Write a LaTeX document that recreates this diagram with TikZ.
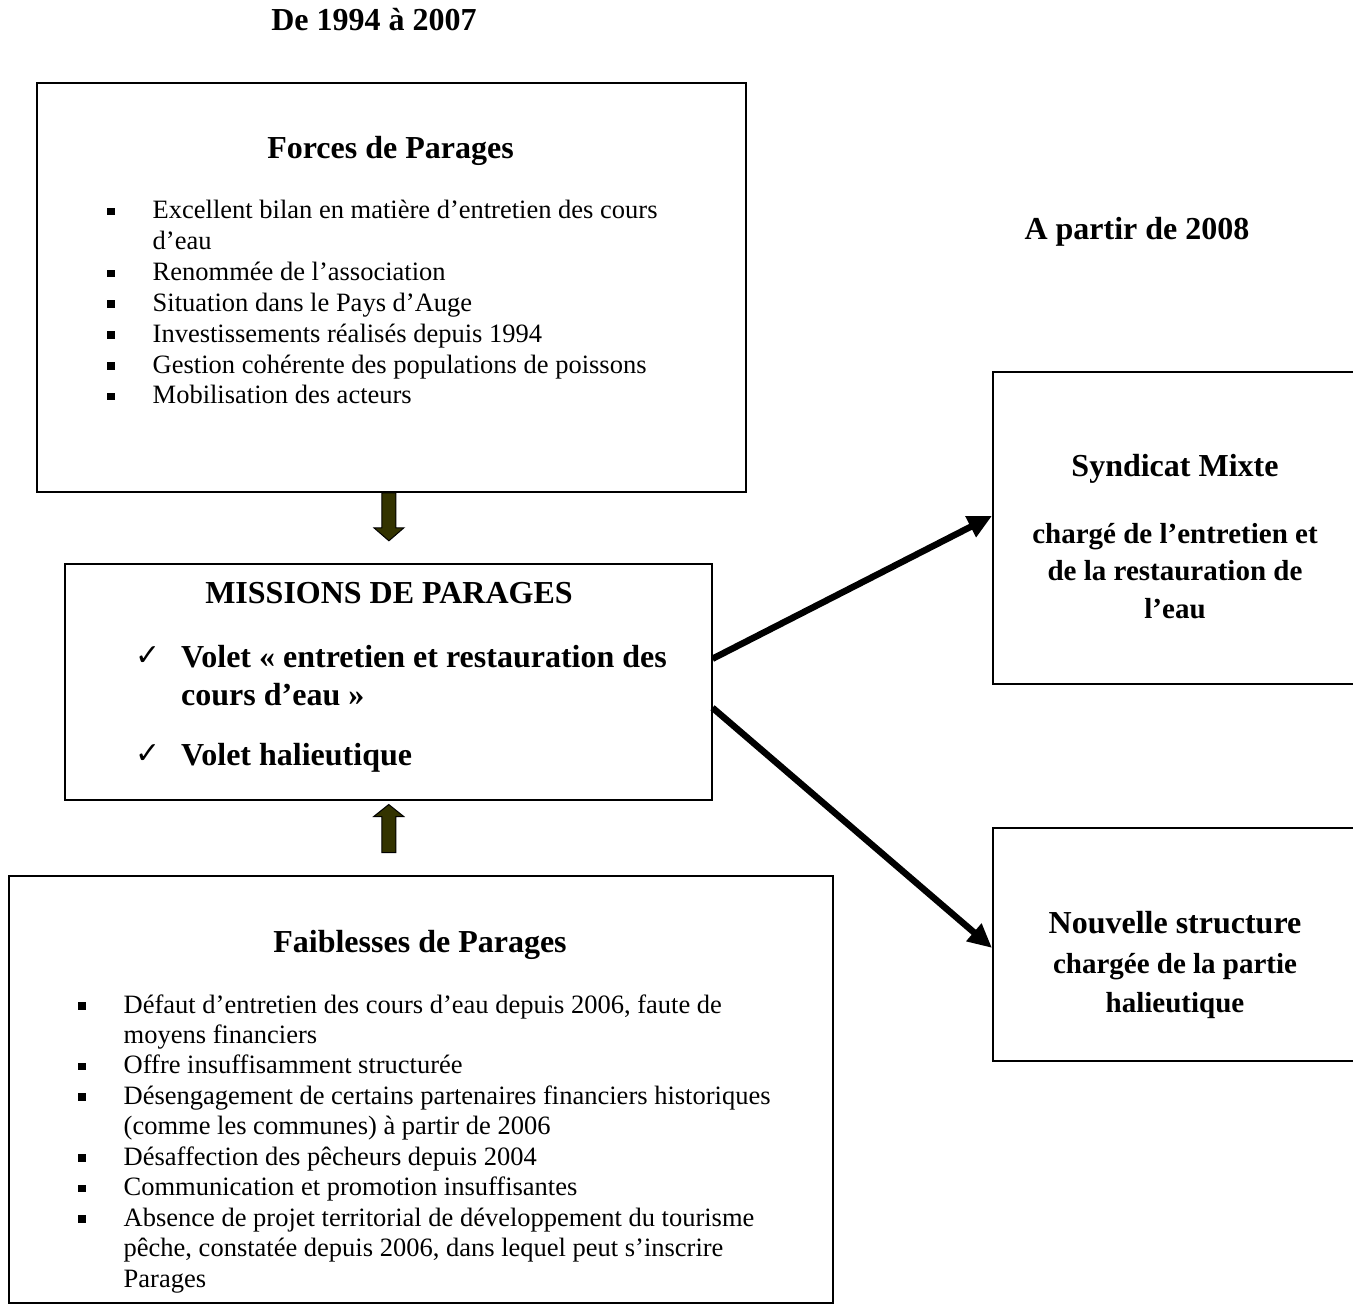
\documentclass[tikz,border=0pt]{standalone}
\usepackage{fontspec}
\setmainfont{Liberation Serif}
\newfontfamily\symfont{DejaVu Sans}
\usetikzlibrary{arrows.meta}
\definecolor{olivedark}{RGB}{51,51,0}
\newcommand\ttlfont{\fontsize{32bp}{38bp}\selectfont\bfseries}
\newcommand\sqitem[1]{\par\noindent\hangindent=45.5bp\hangafter=1\makebox[45.5bp][l]{\rule[3.5bp]{7.5bp}{7.5bp}}#1}
\newcommand\ckitem[1]{\par\noindent\hangindent=46bp\hangafter=1\makebox[46bp][l]{\raisebox{2bp}{\symfont\fontsize{30bp}{30bp}\selectfont ✓}}#1}
\begin{document}
\begin{tikzpicture}[x=1bp,y=-1bp,
  frame/.style={draw, line width=1.8bp, inner sep=0pt, anchor=north west},
  txt/.style={inner sep=0pt, anchor=base},
  lst/.style={inner sep=0pt, anchor=base west},
  blockarr/.style={draw=black, line width=1bp, fill=olivedark, line join=miter},
  link/.style={line width=6.5bp, -{Triangle[length=24bp,width=22bp]}}]
\useasboundingbox (0,0) rectangle (1353,1304);
\clip (0,0) rectangle (1353,1304);
% boxes
\node[frame, minimum width=709bp, minimum height=409bp] (forces) at (36,82) {};
\node[frame, line width=1.5bp, minimum width=647bp, minimum height=236bp] (missions) at (64,563) {};
\node[frame, minimum width=824bp, minimum height=427bp] (faib) at (8,875) {};
\node[frame, minimum width=366bp, minimum height=312bp] (syn) at (992,371) {};
\node[frame, minimum width=366bp, minimum height=233bp] (nouv) at (992,827) {};
% headings
\node[txt, font=\ttlfont] (t1) at (374,31) {De 1994 à 2007};
\node[txt, font=\ttlfont] (t2) at (1137,240) {A partir de 2008};
% forces
\node[txt, font=\ttlfont] (ftitle) at (390.5,159) {Forces de Parages};
\node[lst] (flist) at (107,219) {\begin{minipage}[t]{800bp}\fontsize{26.5bp}{30.8bp}\selectfont
\sqitem{Excellent bilan en matière d’entretien des cours\\ d’eau}
\sqitem{Renommée de l’association}
\sqitem{Situation dans le Pays d’Auge}
\sqitem{Investissements réalisés depuis 1994}
\sqitem{Gestion cohérente des populations de poissons}
\sqitem{Mobilisation des acteurs}
\end{minipage}};
% missions
\node[txt, font=\ttlfont] (mtitle) at (389,603) {MISSIONS DE PARAGES};
\node[lst] (mlist) at (135,667) {\begin{minipage}[t]{700bp}\fontsize{32bp}{38bp}\selectfont\bfseries
\ckitem{Volet « entretien et restauration des\\ cours d’eau »}\par\vspace{22bp}
\ckitem{Volet halieutique}
\end{minipage}};
% faiblesses
\node[txt, font=\ttlfont] (wtitle) at (420,952) {Faiblesses de Parages};
\node[lst] (wlist) at (78,1013) {\begin{minipage}[t]{800bp}\fontsize{26.5bp}{30.45bp}\selectfont
\sqitem{Défaut d’entretien des cours d’eau depuis 2006, faute de\\ moyens financiers}
\sqitem{Offre insuffisamment structurée}
\sqitem{Désengagement de certains partenaires financiers historiques\\ (comme les communes) à partir de 2006}
\sqitem{Désaffection des pêcheurs depuis 2004}
\sqitem{Communication et promotion insuffisantes}
\sqitem{Absence de projet territorial de développement du tourisme\\ pêche, constatée depuis 2006, dans lequel peut s’inscrire\\ Parages}
\end{minipage}};
% syndicat
\node[txt, font=\ttlfont] (s1) at (1175,476) {Syndicat Mixte};
\node[txt] (s2) at (1175,543) {\begin{minipage}[t]{360bp}\centering\fontsize{29bp}{37.5bp}\selectfont\bfseries
chargé de l’entretien et\\ de la restauration de\\ l’eau\end{minipage}};
% nouvelle
\node[txt, font=\ttlfont] (n1) at (1175,933) {Nouvelle structure};
\node[txt] (n2) at (1175,973) {\begin{minipage}[t]{360bp}\centering\fontsize{29bp}{39bp}\selectfont\bfseries
chargée de la partie\\ halieutique\end{minipage}};
% block arrows
\draw[blockarr] ([shift={(-9.5,0)}]forces.south) -- ++(0,35) -- ++(-8,0) -- ++(15,13) -- ++(15,-13) -- ++(-8,0) -- ++(0,-35) -- cycle;
\draw[blockarr] ([shift={(-6.5,52)}]missions.south) -- ++(0,-36) -- ++(-8,0) -- ++(15,-12) -- ++(15,12) -- ++(-8,0) -- ++(0,36) -- cycle;
% links
\draw[link] ([yshift=23bp]missions.east) -- ([yshift=12bp]syn.west);
\draw[link] ([yshift=-26bp]missions.east) -- ([yshift=-3.5bp]nouv.west);
\end{tikzpicture}
\end{document}
